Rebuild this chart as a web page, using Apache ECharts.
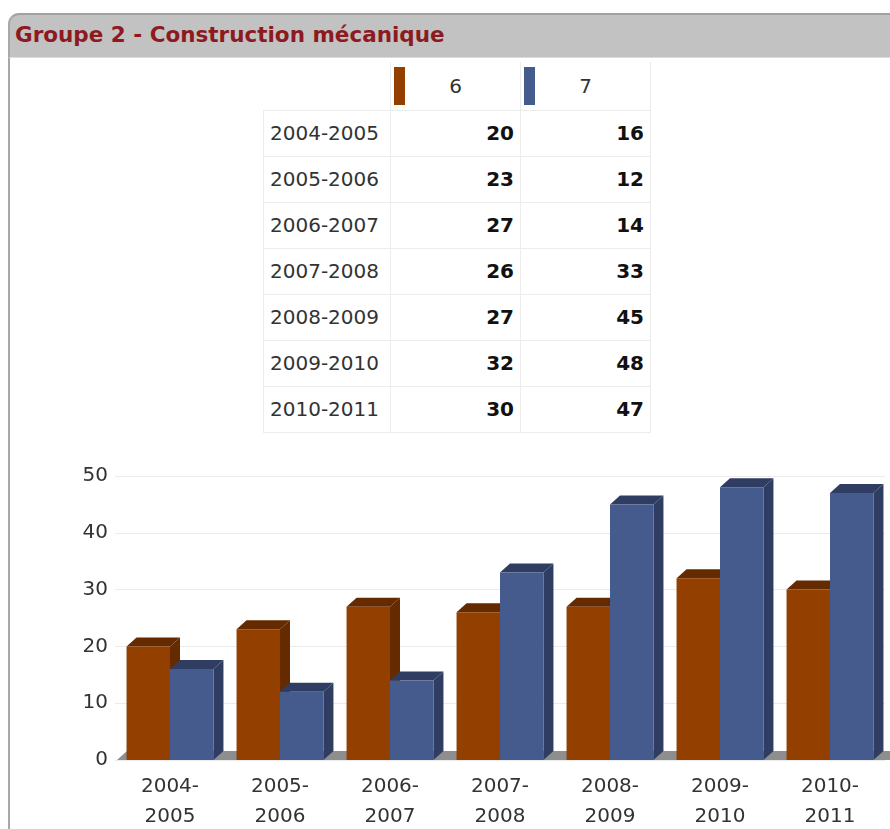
<!DOCTYPE html>
<html>
<head>
<meta charset="utf-8">
<script src="https://cdn.jsdelivr.net/npm/echarts@6/dist/echarts.min.js"></script>
<style>
  html, body { margin: 0; padding: 0; background: #fff; }
  body { width: 890px; height: 829px; position: relative; overflow: hidden; font-family: "DejaVu Sans", sans-serif; }
  .panel-head {
    position: absolute; left: 8px; top: 13px; width: 900px; height: 45px;
    background: #c2c2c2; border-top: 2px solid #a2a2a2; border-left: 2px solid #a8a8a8;
    border-bottom: 1px solid #dcdcdc;
    border-top-left-radius: 11px; box-sizing: border-box;
  }
  .panel-head span {
    position: absolute; left: 5px; top: 7px;
    font: bold 21.5px "DejaVu Sans", sans-serif; color: #8c1a1f; white-space: nowrap;
  }
  .panel-side { position: absolute; left: 8px; top: 58px; width: 2px; height: 800px; background: #a8a8a8; }
  table.recap {
    position: absolute; left: 263px; top: 62px; border-collapse: collapse;
    font-size: 20px; color: #333;
  }
  table.recap td { border: 1px solid #ececec; height: 46px; padding: 0; box-sizing: border-box; }
  table.recap td.lbl { width: 127px; padding-left: 6px; text-align: left; }
  table.recap td.val { width: 130px; padding-right: 6px; text-align: right; font-weight: bold; color: #111; }
  table.recap tr.head td { height: 48px; border-top: none; }
  table.recap tr.head td.lbl { border-left: none; }
  .key { position: relative; text-align: center; font-weight: normal; color: #333; }
  .key i { position: absolute; left: 3px; top: 5px; width: 11px; height: 38px; }
  #chart { position: absolute; left: 0; top: 440px; width: 890px; height: 389px; }
</style>
</head>
<body>
<div class="panel-head"><span>Groupe 2 - Construction mécanique</span></div>
<div class="panel-side"></div>
<table class="recap" id="recap"></table>
<div id="chart"></div>
<script>
var years = ['2004-2005', '2005-2006', '2006-2007', '2007-2008', '2008-2009', '2009-2010', '2010-2011']
var seriesNames = ['6', '7']
var values6 = [20, 23, 27, 26, 27, 32, 30]
var values7 = [16, 12, 14, 33, 45, 48, 47]
var yTicks = [0, 10, 20, 30, 40, 50]

var colors = ['#933f00', '#455a8d']
var darkColors = ['#652a00', '#2f3d62']

// table
var rows = '<tr class="head"><td class="lbl"></td>'
seriesNames.forEach(function (n, i) {
  rows += '<td class="key"><i style="background:' + colors[i] + '"></i>' + n + '</td>'
})
rows += '</tr>'
years.forEach(function (y, i) {
  rows += '<tr><td class="lbl">' + y + '</td><td class="val">' + values6[i] + '</td><td class="val">' + values7[i] + '</td></tr>'
})
document.getElementById('recap').innerHTML = rows

// pseudo 3d depth
var DX = 10
var DY = 9

function bar3d (side, color, dark) {
  return function (params, api) {
    var top = api.coord([api.value(0), api.value(1)])
    var base = api.coord([api.value(0), 0])
    var w = api.size([1, 0])[0] * 0.395
    var x0 = side < 0 ? top[0] - w : top[0]
    var x1 = x0 + w
    var yt = top[1]
    var yb = base[1]
    return {
      type: 'group',
      children: [
        { type: 'polygon', shape: { points: [[x1, yt], [x1 + DX, yt - DY], [x1 + DX, yb - DY], [x1, yb]] }, style: { fill: dark } },
        { type: 'polygon', shape: { points: [[x0, yt], [x0 + DX, yt - DY], [x1 + DX, yt - DY], [x1, yt]] }, style: { fill: dark } },
        { type: 'rect', shape: { x: x0, y: yt, width: w, height: yb - yt }, style: { fill: color } }
      ]
    }
  }
}

function floor (params, api) {
  var cs = params.coordSys
  var y = cs.y + cs.height
  return {
    type: 'polygon',
    shape: { points: [[cs.x + 2, y], [cs.x + cs.width + 20, y], [cs.x + cs.width + 20 + DX, y - DY], [cs.x + 2 + DX, y - DY]] },
    style: { fill: '#8e8e8e' }
  }
}

var chart = echarts.init(document.getElementById('chart'))
chart.setOption({
  animation: false,
  grid: { left: 115, right: 5, top: 36, bottom: 69, containLabel: false, outerBoundsMode: 'none' },
  xAxis: {
    type: 'category',
    data: years,
    axisLine: { show: false },
    axisTick: { show: false },
    axisLabel: {
      margin: 12,
      fontSize: 20,
      lineHeight: 30,
      color: '#333',
      fontFamily: 'DejaVu Sans',
      formatter: function (v) { return v.replace('-', '-\n') }
    }
  },
  yAxis: {
    type: 'value',
    min: yTicks[0],
    max: yTicks[yTicks.length - 1],
    interval: 10,
    axisLine: { show: false },
    axisTick: { show: false },
    axisLabel: { margin: 7, fontSize: 20, color: '#333', fontFamily: 'DejaVu Sans' },
    splitLine: { lineStyle: { color: '#ebebeb' } }
  },
  series: [
    { type: 'custom', name: 'floor', renderItem: floor, data: [[0, 0]], clip: false, z: 1, silent: true },
    {
      type: 'custom',
      name: seriesNames[0],
      renderItem: bar3d(-1, colors[0], darkColors[0]),
      data: values6.map(function (v, i) { return [i, v] }),
      encode: { x: 0, y: 1 },
      z: 2
    },
    {
      type: 'custom',
      name: seriesNames[1],
      renderItem: bar3d(1, colors[1], darkColors[1]),
      data: values7.map(function (v, i) { return [i, v] }),
      encode: { x: 0, y: 1 },
      z: 3
    }
  ]
})
</script>
</body>
</html>
